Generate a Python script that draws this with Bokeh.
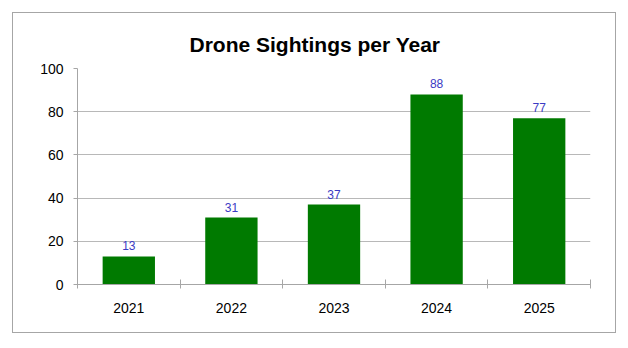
from bokeh.plotting import figure
from bokeh.models import ColumnDataSource, LabelSet, FixedTicker, Range1d, LinearAxis
from bokeh.core.properties import value
from bokeh.embed import file_html
from bokeh.resources import INLINE

title_text = "Drone Sightings per Year"
years = ["2021", "2022", "2023", "2024", "2025"]
sightings = [13, 31, 37, 88, 77]
y_ticks = [0, 20, 40, 60, 80, 100]

pos = [i + 0.5 for i in range(len(years))]
src = ColumnDataSource(dict(x=pos, count=sightings, lbl=[str(v) for v in sightings]))

p = figure(width=604, height=321, output_backend="svg", toolbar_location=None,
           x_axis_location=None,
           min_border_left=64, min_border_right=27, min_border_top=55, min_border_bottom=50)
p.margin = (12, 0, 0, 12)
p.styles = {"border": "1px solid #a6a6a6", "box-sizing": "border-box"}
p.y_range = Range1d(0, y_ticks[-1])
p.x_range = Range1d(0, len(years))

p.vbar(x="x", top="count", width=0.51, source=src, fill_color="#007a00", line_color=None)
p.add_layout(LabelSet(x="x", y="count", text="lbl", source=src, text_align="center",
                      y_offset=6, text_font_size="12px", text_color="#3b3bc4",
                      text_font=value("Liberation Sans")))

p.title.text = title_text
p.title.align = "left"
p.title.vertical_align = "top"
p.title.text_font = "Liberation Sans"
p.title.text_font_size = "21px"
p.title.text_font_style = "bold"
p.title.text_color = "#000000"
p.title.offset = 112
p.title.standoff = 22

# boundary ticks axis
sep_axis = LinearAxis(ticker=FixedTicker(ticks=list(range(len(years) + 1))),
                      major_label_overrides={i: "" for i in range(len(years) + 1)},
                      major_tick_out=4, major_tick_in=5, minor_tick_line_color=None,
                      axis_line_color="#a6a6a6", major_tick_line_color="#a6a6a6",
                      major_label_standoff=0, major_label_text_font_size="1px")
lab_axis = LinearAxis(ticker=FixedTicker(ticks=pos),
                      major_label_overrides={pv: y for pv, y in zip(pos, years)},
                      axis_line_color=None, major_tick_line_color=None, minor_tick_line_color=None,
                      major_label_standoff=8, major_label_text_font="Liberation Sans",
                      major_label_text_font_size="14px", major_label_text_color="#000000")
p.add_layout(sep_axis, "below")
p.add_layout(lab_axis, "below")

p.yaxis.ticker = FixedTicker(ticks=y_ticks)
p.yaxis.minor_tick_line_color = None
p.yaxis.major_tick_out = 4
p.yaxis.major_tick_in = 0
p.yaxis.axis_line_color = "#a6a6a6"
p.yaxis.major_tick_line_color = "#a6a6a6"
p.yaxis.major_label_text_font = "Liberation Sans"
p.yaxis.major_label_text_font_size = "14px"
p.yaxis.major_label_text_color = "#000000"
p.yaxis.major_label_standoff = 10

p.xgrid.grid_line_color = None
p.ygrid.grid_line_color = "#b8b8b8"
p.outline_line_color = None
p.background_fill_color = "white"
p.border_fill_color = "white"

open("out.html", "w").write(file_html(p, INLINE))
